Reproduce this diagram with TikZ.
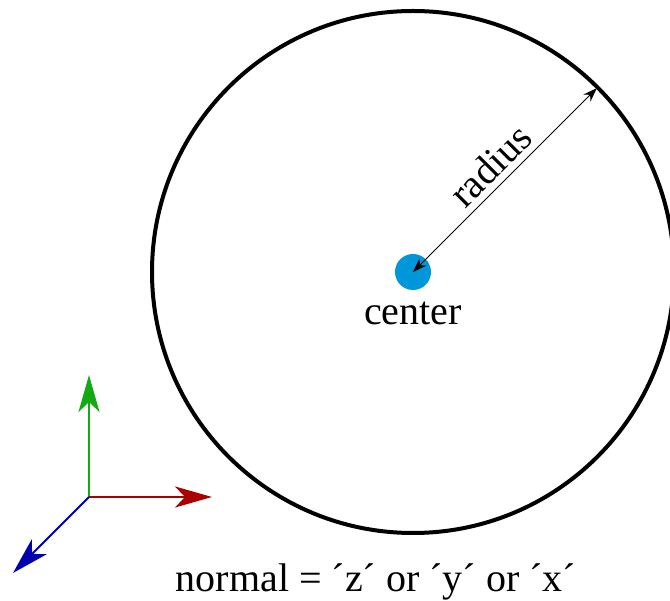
\documentclass[tikz,border=0pt]{standalone}
\usepackage{fontspec}
\setmainfont{Liberation Serif}
\usetikzlibrary{arrows.meta,calc}
\definecolor{dotblue}{RGB}{0,150,218}
\definecolor{axgreen}{RGB}{20,170,20}
\definecolor{axred}{RGB}{170,0,0}
\definecolor{axblue}{RGB}{0,0,175}
\tikzset{
  axis/.style={line width=2pt,-{Stealth[length=37pt,width=21pt,inset=10pt]}},
  lbl/.style={font=\fontsize{40}{42}\selectfont, inner sep=0pt},
}
\begin{document}
\begin{tikzpicture}[x=1pt,y=1pt]
\useasboundingbox (0,0) rectangle (670,-601);
\node (circ) [circle, draw, line width=4pt, minimum size=522pt, inner sep=0pt, outer sep=0pt] at (413,-272) {};
\node (ctr) [circle, fill=dotblue, minimum size=36pt, inner sep=0pt] at (413,-272) {};
\coordinate (edge) at ($(ctr.center)+(45:260pt)$);
\draw[line width=1pt, {Stealth[length=14pt,width=10pt]}-{Stealth[length=14pt,width=10pt]}] (ctr.center) -- node[lbl, midway, above=6pt, sloped] (rad) {radius} (edge);
\node (ctrlbl) [lbl, anchor=base] at (413,-325) {center};
\coordinate (o) at (89,-497);
\coordinate (ey) at (89,-375);
\coordinate (ex) at (212,-497);
\coordinate (ez) at (13,-573);
\draw[axis, axgreen] (o) -- (ey);
\draw[axis, axred] (o) -- (ex);
\draw[axis, axblue] (o) -- (ez);
\node (normal) [lbl, anchor=base] at (376,-591) {normal = ´z´ or ´y´ or ´x´};
\end{tikzpicture}
\end{document}
